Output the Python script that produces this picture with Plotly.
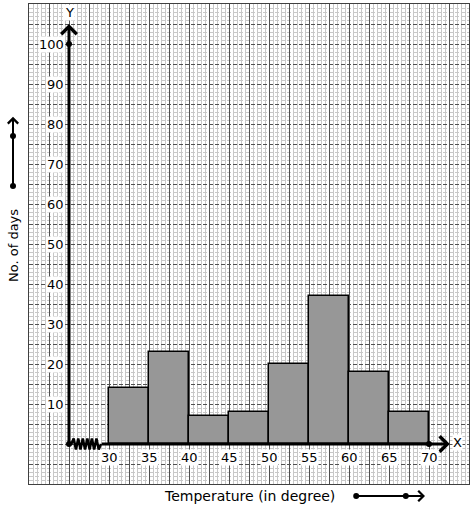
import plotly.graph_objects as go

# Data
bin_edges = [30, 35, 40, 45, 50, 55, 60, 65, 70]
days = [14, 23, 7, 8, 20, 37, 18, 8]
x_tick_labels = [30, 35, 40, 45, 50, 55, 60, 65, 70]
y_tick_labels = [10, 20, 30, 40, 50, 60, 70, 80, 90, 100]
x_label = "Temperature (in degree)"
y_label = "No. of days"

ORIGIN_X = 25  # axis break: origin drawn at 25
X_RANGE = [20, 75]
Y_RANGE = [-10, 110]
FONT = "DejaVu Sans"


def px_(x):
    return (x - X_RANGE[0]) / (X_RANGE[1] - X_RANGE[0])


def py_(y):
    return (y - Y_RANGE[0]) / (Y_RANGE[1] - Y_RANGE[0])


mids = [(a + b) / 2 for a, b in zip(bin_edges[:-1], bin_edges[1:])]
widths = [b - a for a, b in zip(bin_edges[:-1], bin_edges[1:])]

fig = go.Figure()
fig.add_trace(go.Bar(
    x=mids, y=days, width=widths,
    marker=dict(color="#979797", line=dict(color="black", width=1.5)),
    hoverinfo="x+y",
))

# zigzag (axis break) on x-axis
zx, zy = [], []
n = 13
for i in range(n + 1):
    zx.append(ORIGIN_X + 0.3 + i * (3.7 / n))
    zy.append(0 if i in (0, n) else (1.4 if i % 2 else -1.4))
fig.add_trace(go.Scatter(x=[ORIGIN_X] + zx + [29], y=[0] + zy + [0], mode="lines",
                         line=dict(color="black", width=2.5), hoverinfo="skip"))

# dots on axes
fig.add_trace(go.Scatter(x=[ORIGIN_X, ORIGIN_X, bin_edges[-1]], y=[0, y_tick_labels[-1], 0],
                         mode="markers", marker=dict(color="black", size=6), hoverinfo="skip"))

shapes = []
for (dx, dy) in [(18, 64.5), (18, 77), (60.9, -13), (67.1, -13)]:
    shapes.append(dict(type="circle", xref="paper", yref="paper", xsizemode="pixel", ysizemode="pixel",
                       xanchor=px_(dx), yanchor=py_(dy), x0=-3, x1=3, y0=-3, y1=3,
                       fillcolor="black", line=dict(color="black", width=0)))

ann = []
# axes arrows
ann.append(dict(x=ORIGIN_X, y=105, ax=ORIGIN_X, ay=0, axref="x", ayref="y", xref="x", yref="y",
                text="", showarrow=True, arrowhead=4, arrowsize=1, arrowwidth=3, arrowcolor="black", standoff=0))
ann.append(dict(x=72.6, y=0, ax=28.9, ay=0, axref="x", ayref="y", xref="x", yref="y",
                text="", showarrow=True, arrowhead=4, arrowsize=1, arrowwidth=3, arrowcolor="black", standoff=0))
# decorative arrows (outside plot area)
ann.append(dict(x=px_(18), y=py_(81.8), xref="paper", yref="paper", ax=0, ay=(81.8 - 64.5) * 4,
                text="", showarrow=True, arrowhead=4, arrowsize=1, arrowwidth=2, arrowcolor="black", standoff=0))
ann.append(dict(x=px_(69.5), y=py_(-13), xref="paper", yref="paper", ax=-(69.5 - 60.9) * 8, ay=0,
                text="", showarrow=True, arrowhead=4, arrowsize=1, arrowwidth=2, arrowcolor="black", standoff=0))
# axis names
ann.append(dict(x=ORIGIN_X + 0.1, y=108, xref="x", yref="y", text="Y", showarrow=False,
                font=dict(family=FONT, size=13, color="black"), bgcolor="white", borderpad=0))
ann.append(dict(x=73.6, y=0.3, xref="x", yref="y", text="X", showarrow=False,
                font=dict(family=FONT, size=13, color="black"), bgcolor="white", borderpad=0))
# tick labels
for v in y_tick_labels:
    ann.append(dict(x=ORIGIN_X, y=v, xref="x", yref="y", text=str(v), showarrow=False,
                    xanchor="right", xshift=-4, font=dict(family=FONT, size=13, color="black"),
                    bgcolor="white", borderpad=0))
for v in x_tick_labels:
    ann.append(dict(x=v, y=0, xref="x", yref="y", text=str(v), showarrow=False,
                    yshift=-13, font=dict(family=FONT, size=13, color="black"),
                    bgcolor="white", borderpad=0))
# labels
ann.append(dict(x=px_(18), y=py_(49.5), xref="paper", yref="paper", text=y_label, showarrow=False,
                textangle=-90, xanchor="center", yanchor="middle",
                font=dict(family=FONT, size=13, color="black")))
ann.append(dict(x=px_(47.6), y=py_(-13), xref="paper", yref="paper", text=x_label, showarrow=False,
                xanchor="center", yanchor="middle",
                font=dict(family=FONT, size=14, color="black")))

fig.update_layout(
    width=474, height=510,
    margin=dict(l=29, r=5, t=4, b=26),
    paper_bgcolor="white", plot_bgcolor="white",
    showlegend=False, bargap=0,
    annotations=ann, shapes=shapes,
    xaxis=dict(range=X_RANGE, dtick=2.5, tick0=20, showgrid=True, gridcolor="#505050", gridwidth=1,
               minor=dict(dtick=0.5, showgrid=True, gridcolor="#c8c8c8", gridwidth=1),
               showticklabels=False, ticks="", zeroline=False, fixedrange=True,
               showline=True, linecolor="#404040", linewidth=1, mirror=True),
    yaxis=dict(range=Y_RANGE, dtick=5, tick0=0, showgrid=True, gridcolor="#505050", gridwidth=1,
               griddash="4px,2px",
               minor=dict(dtick=1, showgrid=True, gridcolor="#c8c8c8", gridwidth=1),
               showticklabels=False, ticks="", zeroline=False, fixedrange=True,
               showline=True, linecolor="#404040", linewidth=1, mirror=True),
)

fig.write_html("out.html", config={"displayModeBar": False},
               post_script="document.body.style.margin='0';")
